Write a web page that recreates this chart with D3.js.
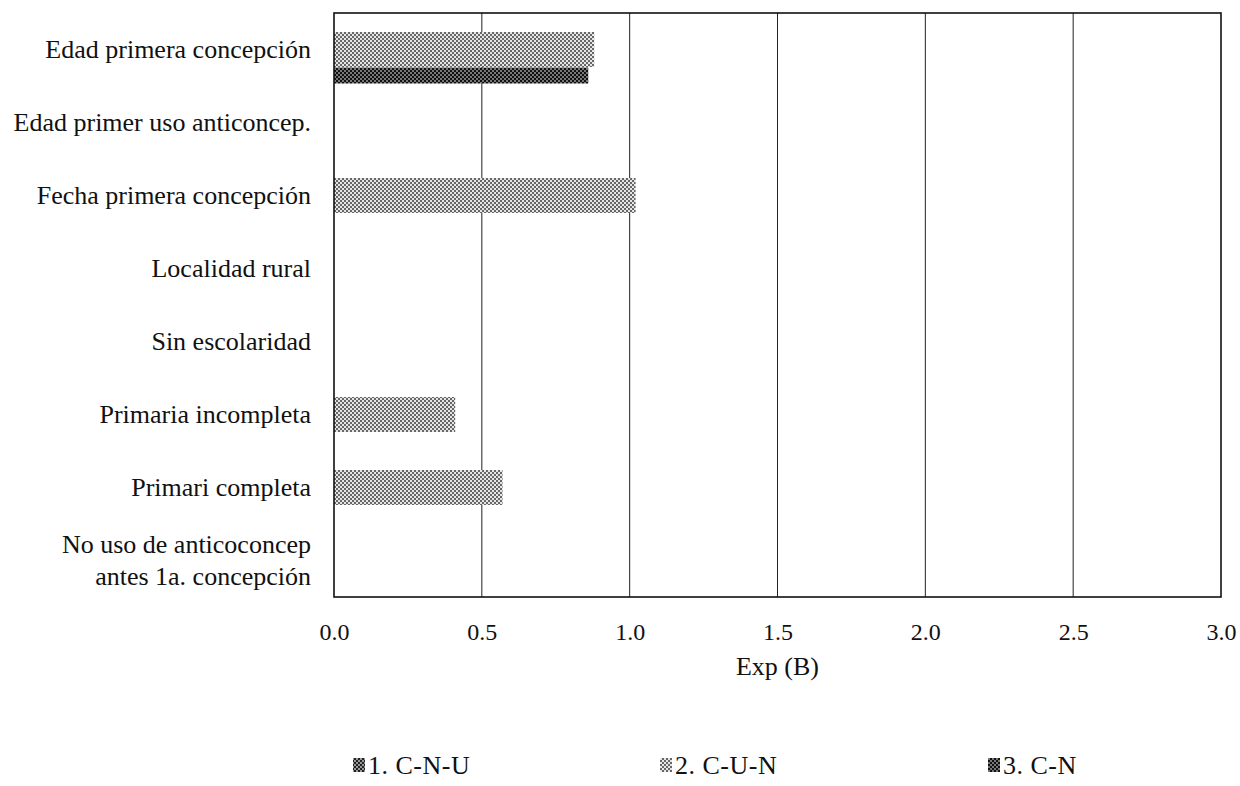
<!DOCTYPE html>
<html>
<head>
<meta charset="utf-8">
<script src="https://cdn.jsdelivr.net/npm/d3@7/dist/d3.min.js"></script>
<style>
  html, body { margin: 0; padding: 0; background: #fff; }
  svg { display: block; }
  text { font-family: "Liberation Serif", "DejaVu Serif", serif; fill: #111; }
</style>
</head>
<body>
<script>
// ---- data ----
const categories = [
  "Edad primera concepción",
  "Edad primer uso anticoncep.",
  "Fecha primera concepción",
  "Localidad rural",
  "Sin escolaridad",
  "Primaria incompleta",
  "Primari completa",
  "No uso de anticoconcep|antes 1a. concepción"
];
const seriesNames = ["1. C-N-U", "2. C-U-N", "3. C-N"];
const seriesCNU = [null, null, null, null, null, null, null, null];
const seriesCUN = [0.88, null, 1.02, null, null, 0.41, 0.57, null];
const seriesCN  = [0.86, null, null, null, null, null, null, null];
const xTicks = [0.0, 0.5, 1.0, 1.5, 2.0, 2.5, 3.0];
const xTitle = "Exp (B)";

// ---- layout ----
const W = 1240, H = 786;
const plot = { left: 334, right: 1221, top: 13, bottom: 597 };
const FS_CAT = 26, FS_TICK = 24, FS_TITLE = 26, FS_LEG = 26;

const svg = d3.select("body").append("svg").attr("width", W).attr("height", H);
const defs = svg.append("defs");

function checker(id, dot, bg) {
  const p = defs.append("pattern").attr("id", id).attr("width", 4).attr("height", 4)
    .attr("patternUnits", "userSpaceOnUse");
  p.append("rect").attr("width", 4).attr("height", 4).attr("fill", bg);
  p.append("rect").attr("x", 0).attr("y", 0).attr("width", 2).attr("height", 2).attr("fill", dot);
  p.append("rect").attr("x", 2).attr("y", 2).attr("width", 2).attr("height", 2).attr("fill", dot);
}
checker("pat1", "#222", "#999");
checker("pat2", "#666", "#e6e6e6");
checker("pat3", "#111", "#777");
const fills = ["url(#pat1)", "url(#pat2)", "url(#pat3)"];

const x = d3.scaleLinear().domain([0, 3]).range([plot.left, plot.right]);
const y = d3.scaleBand().domain(categories).range([plot.top, plot.bottom]).padding(0);
const bw = y.bandwidth();

// gridlines
svg.append("g").selectAll("line").data(xTicks.slice(1, -1)).join("line")
  .attr("x1", d => x(d)).attr("x2", d => x(d))
  .attr("y1", plot.top).attr("y2", plot.bottom)
  .attr("stroke", "#222").attr("stroke-width", 1);

// bars
const allSeries = [seriesCNU, seriesCUN, seriesCN];
const barOffset = [-bw / 2 + 3, -17.5, 18];   // relative to band center
const barHeight = [16, 35, 16];
allSeries.forEach((vals, si) => {
  svg.append("g").selectAll("rect")
    .data(vals.map((v, i) => ({ v, c: categories[i] })).filter(d => d.v != null))
    .join("rect")
    .attr("x", x(0))
    .attr("y", d => y(d.c) + bw / 2 + barOffset[si])
    .attr("width", d => x(d.v) - x(0))
    .attr("height", barHeight[si])
    .attr("fill", fills[si]);
});

// frame
svg.append("rect")
  .attr("x", plot.left).attr("y", plot.top)
  .attr("width", plot.right - plot.left).attr("height", plot.bottom - plot.top)
  .attr("fill", "none").attr("stroke", "#111").attr("stroke-width", 1.6);

// x axis labels
const xAxis = d3.axisBottom(x).tickValues(xTicks).tickFormat(d3.format(".1f")).tickSize(0).tickPadding(26);
const gx = svg.append("g").attr("transform", `translate(0,${plot.bottom})`).call(xAxis);
gx.select(".domain").remove();
gx.selectAll("text").attr("font-size", FS_TICK).attr("font-family", "Liberation Serif").attr("fill", "#111");

svg.append("text").attr("x", x(1.5)).attr("y", 675).attr("text-anchor", "middle")
  .attr("font-size", FS_TITLE).text(xTitle);

// y category labels
const yAxis = d3.axisLeft(y).tickSize(0).tickPadding(23).tickFormat("");
const gy = svg.append("g").attr("transform", `translate(${plot.left},0)`).call(yAxis);
gy.select(".domain").remove();
categories.forEach(c => {
  const lines = c.split("|");
  const cy = y(c) + bw / 2;
  const t = svg.append("text").attr("x", 311).attr("text-anchor", "end").attr("font-size", FS_CAT);
  lines.forEach((ln, i) => {
    t.append("tspan").attr("x", 311)
      .attr("y", cy + 8 + (i - (lines.length - 1) / 2) * 32)
      .text(ln);
  });
});

// legend
const legX = [353, 660, 988];
const leg = svg.append("g");
seriesNames.forEach((n, i) => {
  leg.append("rect").attr("x", legX[i]).attr("y", 758).attr("width", 12).attr("height", 14)
    .attr("fill", fills[i]);
  leg.append("text").attr("x", legX[i] + 15).attr("y", 774).attr("font-size", FS_LEG)
    .attr("letter-spacing", 0.5).text(n);
});
</script>
</body>
</html>
